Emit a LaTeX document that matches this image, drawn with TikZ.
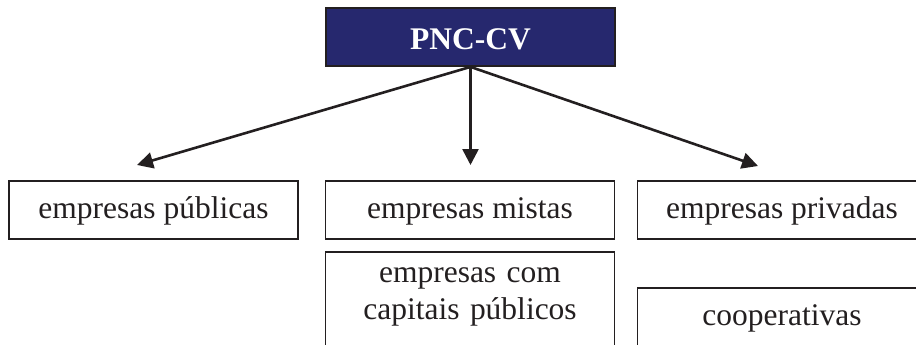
\documentclass[tikz,border=0pt]{standalone}
\usepackage{fontspec}
\setmainfont{Liberation Serif}
\usetikzlibrary{arrows.meta}
\definecolor{pncblue}{RGB}{38,40,110}
\definecolor{ink}{RGB}{35,31,32}
\begin{document}
\begin{tikzpicture}[x=1pt,y=-1pt]
	\tikzstyle{box}=[draw=ink,line width=1.8pt,inner sep=0pt,minimum width=289pt,minimum height=58pt,
	text=ink,font=\fontsize{31.5}{37}\selectfont,text height=21pt,text depth=5pt]
	\tikzstyle{head}=[box,fill=pncblue,text=white,font=\fontsize{31.5}{37}\selectfont\bfseries,
	text height=26pt,text depth=0pt]
	\tikzstyle{link}=[draw=ink,line width=2.6pt,-{Triangle[length=16pt,width=16pt]}]
	\clip (0,0) rectangle (916,345);
	\node[head] (pnc) at (470.5,37) {PNC-CV};
	\node[box] (pub) at (153.5,210) {empresas públicas};
	\node[box] (mist) at (470,210) {empresas mistas};
	\node[box] (priv) at (782,210) {empresas privadas};
	\node[box,anchor=north,text width=288pt,align=center,text height=31pt,text depth=90pt] (capt) at (470,251)
		{empresas com\\capitais públicos};
	\node[box,anchor=north,text height=38pt,text depth=40pt] (coop) at (782,287) {cooperativas};
	\coordinate (tl) at (137,165);
	\coordinate (tm) at (pnc.south |- 0,165);
	\coordinate (tr) at (758,166);
	\draw[link] (pnc.south) -- (tl);
	\draw[link] (pnc.south) -- (tm);
	\draw[link] (pnc.south) -- (tr);
\end{tikzpicture}
\end{document}
